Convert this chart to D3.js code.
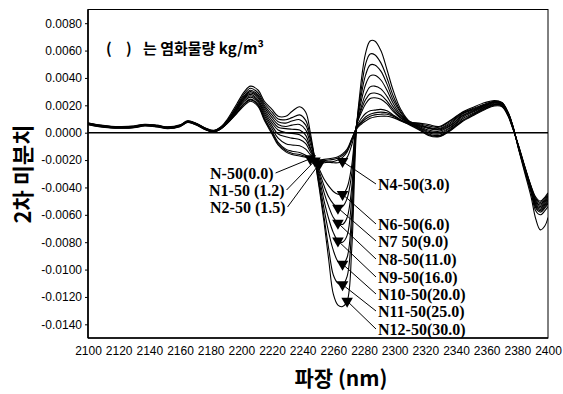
<!DOCTYPE html>
<html>
<head>
<meta charset="utf-8">
<script src="https://cdn.jsdelivr.net/npm/d3@7"></script>
<style>
  html, body { margin: 0; padding: 0; background: #fff; }
  svg { display: block; }
  .tick text { font-family: "Liberation Sans", Arial, sans-serif; font-size: 12px; fill: #000; }
  .tick line { stroke: #000; }
</style>
</head>
<body>
<svg id="chart" width="563" height="394"></svg>
<script>
// Second-derivative NIR spectra of mortar specimens with increasing chloride content.
// Curve values are stored in units of 1e-4 (multiply by UNIT to get the derivative value).
const UNIT = 1e-4;

const wavelengths = [2100, 2107, 2115, 2122, 2130, 2137, 2145, 2152, 2160, 2165, 2171, 2177, 2182, 2187, 2191, 2197,
  2202, 2206, 2211, 2215, 2220, 2224, 2229, 2233, 2238, 2242, 2245, 2248, 2251, 2254, 2257, 2260,
  2263, 2266, 2269, 2272, 2275, 2278, 2281, 2284, 2287, 2291, 2295, 2299, 2304, 2310, 2316, 2322,
  2329, 2337, 2344, 2352, 2359, 2365, 2370, 2374, 2377, 2381, 2385, 2389, 2392, 2395, 2398, 2400];

const xTickValues = [2100, 2120, 2140, 2160, 2180, 2200, 2220, 2240, 2260, 2280, 2300, 2320, 2340, 2360, 2380, 2400];
const yTickValues = [0.008, 0.006, 0.004, 0.002, 0, -0.002, -0.004, -0.006, -0.008, -0.010, -0.012, -0.014];

const seriesLabels = ["N-50(0.0)", "N1-50 (1.2)", "N2-50 (1.5)", "N4-50(3.0)", "N6-50(6.0)", "N7 50(9.0)",
  "N8-50(11.0)", "N9-50(16.0)", "N10-50(20.0)", "N11-50(25.0)", "N12-50(30.0)"];

const n50 = [5.9, 4.4, 3.4, 3.2, 3.6, 4.9, 4.2, 3.0, 4.4, 7.4, 5.4, 1.9, 0.4,
  3, 7, 14, 20, 23, 19, 9, -1, -9, -14, -16, -17, -18, -19, -20, -20, -19.5, -19, -18.5, -17.5, -15.5, -12, -4.5,
  2.5, 6, 8.5, 10.5, 11.5, 12, 12, 11, 8.5, 5.5, 2, -2, -3, 2, 8, 13, 17, 19.5, 19, 12, 3, -10, -25, -39, -47, -50, -47, -44];
const n1_50 = [6.1, 4.6, 3.6, 3.4, 3.8, 5.1, 4.4, 3.2, 4.6, 7.6, 5.6, 2.1, 0.6,
  3, 7, 14.5, 21, 24, 20, 10, 0, -8, -13, -15, -16, -17.5, -18.5, -20.5, -21, -20.5, -20, -19.5, -18.5, -16.5, -13, -5,
  3, 7, 10, 12, 13, 13.5, 13.5, 12, 9, 6, 2.5, -1.5, -2.5, 2.5, 8.5, 13.5, 17.5, 20, 19.5, 12.5, 3.5, -10.5, -25.5, -39.5, -48, -51, -48, -45];
const n2_50 = [6.2, 4.7, 3.7, 3.5, 3.9, 5.2, 4.5, 3.3, 4.7, 7.7, 5.7, 2.2, 0.7,
  3.2, 7.5, 15, 21.5, 24.5, 20.5, 11, 1, -7, -12, -13.5, -14.5, -16.5, -19, -21.5, -22.5, -22, -21.5, -21, -20, -18, -14, -6,
  3.5, 8, 11.5, 13.5, 14.5, 15, 14.5, 12.5, 9, 6, 3, -1, -2, 3, 9, 14, 18, 20.5, 20, 13, 3.5, -10.5, -26, -40, -49, -52, -49, -46];
const n4_50 = [6.4, 4.9, 3.9, 3.7, 4.1, 5.4, 4.7, 3.5, 4.9, 7.9, 5.9, 2.4, 0.9,
  3.4, 7.5, 16, 23, 26, 22, 12.5, 3, -4, -8, -9, -9.5, -12, -16, -19, -20, -21, -21.5, -22, -22, -21, -18, -9,
  4, 10, 14, 16, 16.5, 17, 16, 13, 9.5, 6.5, 3.5, 0, -1, 4, 10, 14.5, 18.5, 21, 20, 13, 4, -11, -26, -40.5, -50, -53, -50, -47];
const n6_50 = [6.5, 5.0, 4.0, 3.8, 4.2, 5.5, 4.8, 3.6, 5.0, 8.0, 6.0, 2.5, 1.0,
  3.5, 8, 16.5, 24, 27, 23, 14, 5, -1, -3, -4, -5, -8, -14, -20, -27, -34, -39, -43, -45, -45, -40, -24,
  5, 14, 21, 25, 25.5, 24.5, 21, 15.5, 10.5, 6.5, 4, 1, 0, 4.5, 11, 15.5, 19, 21.5, 20.5, 13.5, 4, -11, -26.5, -41, -51, -54, -51, -48];
const n7_50 = [6.6, 5.1, 4.1, 3.9, 4.3, 5.6, 4.9, 3.7, 5.1, 8.1, 6.1, 2.6, 1.1,
  3.6, 8, 17, 25, 28, 24, 15.5, 7, 2, 0, -0.5, -1.5, -5, -12, -20, -29, -39, -47, -52, -55, -54, -48, -30,
  5, 16, 24, 28.5, 29, 27.5, 23, 17, 11, 7, 4.5, 2, 1, 5.5, 12, 16, 19.5, 22, 21, 13.5, 4.5, -11.5, -27, -41.5, -52, -55, -52, -49];
const n8_50 = [6.7, 5.2, 4.2, 4.0, 4.4, 5.7, 5.0, 3.8, 5.2, 8.2, 6.2, 2.7, 1.2,
  3.8, 8.5, 17.5, 25.5, 29, 25.5, 17, 9, 4, 3, 2.5, 2, -2, -11, -20, -31, -44, -54, -62, -66, -67, -62, -40,
  4, 18, 28, 33.5, 34, 32, 26.5, 19, 12, 7, 5, 3, 2, 6, 12.5, 16.5, 20, 22, 21, 14, 4.5, -11.5, -27, -42, -53, -56, -53, -50];
const n9_50 = [6.8, 5.3, 4.3, 4.1, 4.5, 5.8, 5.1, 3.9, 5.3, 8.3, 6.3, 2.8, 1.3,
  4, 8.5, 18, 26.5, 30, 26.5, 18.5, 11, 6, 4.5, 5.5, 6, 2, -8, -19.5, -34, -50, -63, -73, -79, -80, -75, -48,
  4, 22, 35, 41.5, 42, 38.5, 31, 21.5, 13, 7.5, 5.5, 3.5, 2.5, 7, 13.5, 17, 20, 22.5, 21.5, 14, 5, -12, -27.5, -42.5, -54, -57, -54, -51];
const n10_50 = [6.9, 5.4, 4.4, 4.2, 4.6, 5.9, 5.2, 4.0, 5.4, 8.4, 6.4, 2.9, 1.4,
  4.2, 9, 19, 27, 31, 27.5, 20, 13, 8, 7, 8.5, 9.5, 5.5, -5, -19, -37, -56, -73, -86, -94, -96, -91, -60,
  4, 26, 42, 49.5, 49.5, 45, 35.5, 24, 14.5, 7.5, 6, 4, 3, 8, 14, 17.5, 20.5, 22.5, 21.5, 14.5, 5, -12, -28, -43, -55, -58, -55, -52];
const n11_50 = [7.0, 5.5, 4.5, 4.3, 4.7, 6.0, 5.3, 4.1, 5.5, 8.5, 6.5, 3.0, 1.5,
  4.4, 9, 19.5, 28.5, 32.5, 29, 21.5, 15, 10, 9.5, 11, 13, 9, -3, -20, -40, -62, -85, -104, -110, -111, -105, -70,
  4, 30, 50, 57.5, 57, 51, 40, 27, 15.5, 8, 6.5, 5, 4, 9, 14.5, 18, 21, 23, 22, 14.5, 5.5, -12.5, -28.5, -44, -57, -60, -57, -54];
const n12_50 = [7.2, 5.7, 4.7, 4.5, 4.9, 6.2, 5.5, 4.3, 5.7, 8.7, 6.7, 3.2, 1.7,
  4.6, 10, 21, 30, 34, 31, 23, 17, 12, 12, 15.5, 19, 15, 0, -20, -42, -66, -93, -118, -126, -127, -123, -85,
  0, 36, 58, 67, 67, 60, 46, 31, 17, 8, 7, 6, 4.5, 9.5, 15, 19, 22, 23.5, 22, 15, 5, -13, -30, -47, -63, -71, -68, -62];

const seriesValues = [n50, n1_50, n2_50, n4_50, n6_50, n7_50, n8_50, n9_50, n10_50, n11_50, n12_50];

// Index into `wavelengths` where each series carries its ▼ marker.
const markerIndex = [26, 27, 28, 33, 33, 32, 32, 32, 33, 33, 34];

// Label placement (text position, which side of the trough it sits on).
const labelLayout = [
  { x: 210, y: 173, side: "left" },
  { x: 209, y: 190, side: "left" },
  { x: 210, y: 207, side: "left" },
  { x: 378, y: 184, side: "right" },
  { x: 378, y: 224, side: "right" },
  { x: 378, y: 241, side: "right" },
  { x: 378, y: 259, side: "right" },
  { x: 378, y: 277, side: "right" },
  { x: 378, y: 294, side: "right" },
  { x: 378, y: 311, side: "right" },
  { x: 378, y: 329, side: "right" }
];

const svg = d3.select("#chart");
const plot = { left: 88, right: 548, top: 9.5, bottom: 338 };

const x = d3.scaleLinear().domain([2100, 2400]).range([plot.left, plot.right]);
const y = d3.scaleLinear().domain([-0.015, 0.009]).range([plot.bottom, plot.top]);

svg.append("defs").append("clipPath").attr("id", "plotClip")
  .append("rect").attr("x", plot.left).attr("y", plot.top)
  .attr("width", plot.right - plot.left).attr("height", plot.bottom - plot.top);

// Axes
svg.append("g")
  .attr("transform", `translate(${plot.left},0)`)
  .call(d3.axisLeft(y).tickValues(yTickValues).tickFormat(d => d.toFixed(4)).tickSize(3).tickPadding(3))
  .call(g => g.select(".domain").remove());

svg.append("g")
  .attr("transform", `translate(0,${plot.bottom})`)
  .call(d3.axisBottom(x).tickValues(xTickValues).tickFormat(d3.format("d")).tickSize(0).tickPadding(8))
  .call(g => g.select(".domain").remove());

// Frame
svg.append("rect")
  .attr("x", plot.left).attr("y", plot.top)
  .attr("width", plot.right - plot.left).attr("height", plot.bottom - plot.top)
  .attr("fill", "none").attr("stroke", "#000").attr("stroke-width", 1);
svg.append("line").attr("x1", plot.left).attr("x2", plot.left).attr("y1", plot.top).attr("y2", plot.bottom)
  .attr("stroke", "#000").attr("stroke-width", 1.6);
svg.append("line").attr("x1", plot.left).attr("x2", plot.right).attr("y1", plot.bottom).attr("y2", plot.bottom)
  .attr("stroke", "#000").attr("stroke-width", 1.6);

// Zero line
svg.append("line")
  .attr("x1", plot.left).attr("x2", plot.right)
  .attr("y1", y(0)).attr("y2", y(0))
  .attr("stroke", "#000").attr("stroke-width", 1.5);

// Spectra
const line = d3.line()
  .x((d, i) => x(wavelengths[i]))
  .y(d => y(d * UNIT))
  .curve(d3.curveCatmullRom.alpha(0.5));

svg.append("g").attr("clip-path", "url(#plotClip)")
  .selectAll("path")
  .data(seriesValues)
  .join("path")
  .attr("d", d => line(d))
  .attr("fill", "none")
  .attr("stroke", "#000")
  .attr("stroke-width", 1.1);

// Labels, leader lines and markers
const labelGroup = svg.append("g");
seriesValues.forEach((vals, k) => {
  const lay = labelLayout[k];
  const mi = markerIndex[k];
  const mx = x(wavelengths[mi]);
  const my = y(vals[mi] * UNIT);

  const t = labelGroup.append("text")
    .attr("x", lay.x).attr("y", lay.y)
    .attr("dy", "0.35em")
    .attr("font-family", "'Liberation Serif', 'Times New Roman', serif")
    .attr("font-weight", "bold")
    .attr("font-size", "16px")
    .attr("fill", "#000")
    .text(seriesLabels[k]);

  let lx, ly;
  if (lay.side === "left") {
    lx = lay.x + t.node().getComputedTextLength() + 2;
    ly = lay.y;
  } else {
    lx = lay.x - 2;
    ly = lay.y;
  }
  labelGroup.append("line")
    .attr("x1", lx).attr("y1", ly).attr("x2", mx).attr("y2", my)
    .attr("stroke", "#000").attr("stroke-width", 1);

  labelGroup.append("path")
    .attr("d", d3.symbol(d3.symbolTriangle, 58)())
    .attr("transform", `translate(${mx},${my}) rotate(180)`)
    .attr("fill", "#000");
});

// Titles
svg.append("text")
  .attr("transform", "translate(21,174) rotate(-90)")
  .attr("text-anchor", "middle")
  .attr("dominant-baseline", "central")
  .attr("font-family", "'Noto Sans CJK KR', sans-serif")
  .attr("font-weight", "bold")
  .attr("font-size", "22px")
  .text("2차 미분치");

svg.append("text")
  .attr("x", 341).attr("y", 386)
  .attr("text-anchor", "middle")
  .attr("font-family", "'Noto Sans CJK KR', sans-serif")
  .attr("font-weight", "bold")
  .attr("font-size", "21px")
  .text("파장 (nm)");

// Note inside the plot
const note = svg.append("g")
  .attr("font-family", "'Noto Sans CJK KR', sans-serif")
  .attr("font-weight", "bold")
  .attr("font-size", "15px");
note.append("text").attr("x", 106).attr("y", 47).attr("dominant-baseline", "central").text("(");
note.append("text").attr("x", 126).attr("y", 47).attr("dominant-baseline", "central").text(")");
note.append("text").attr("x", 143).attr("y", 47).attr("dominant-baseline", "central").text("는 염화물량 kg/m³");
</script>
</body>
</html>
